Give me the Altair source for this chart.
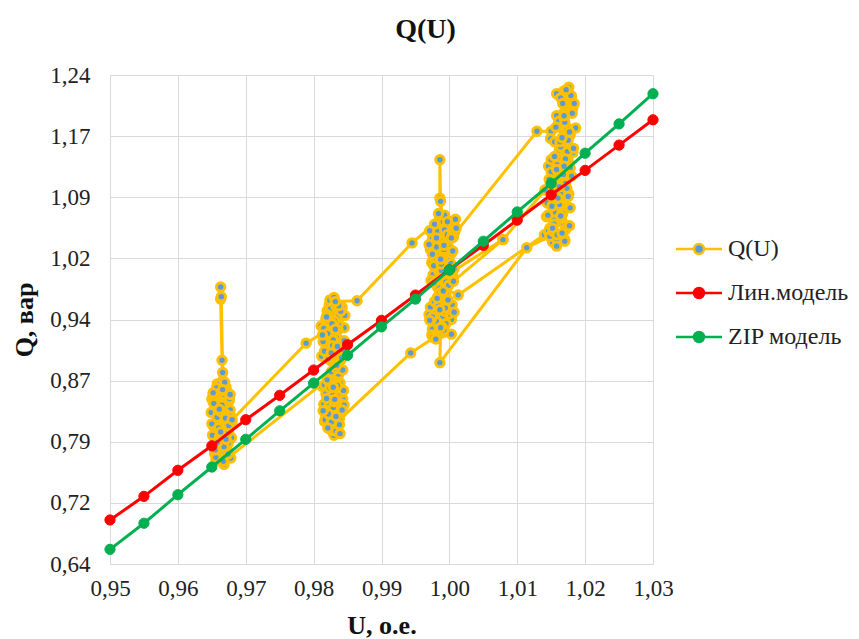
import altair as alt
import pandas as pd

# ---- measured series Q(U), in time order ----
u_meas = [
    # cluster near 1.00 (start)
    0.9992, 0.9980, 0.9994, 0.9983, 0.9996, 0.9979, 0.9990, 0.9975, 0.9985,
    0.9943,
    # cluster near 0.983 (low part)
    0.9832, 0.9830, 0.9826, 0.9838, 0.9837, 0.9822, 0.9835, 0.9818, 0.9829, 0.9841,
    0.9824, 0.9836, 0.9815, 0.9830, 0.9843, 0.9821, 0.9834, 0.9812, 0.9827, 0.9839,
    0.9828, 0.9816, 0.9834, 0.9823, 0.9840, 0.9831, 0.9819, 0.9836, 0.9825, 0.9844,
    0.9829, 0.9817, 0.9833, 0.9838, 0.9822, 0.9830, 0.9827, 0.9841, 0.9818, 0.9835,
    0.9814, 0.9826, 0.9839, 0.9821, 0.9833, 0.9845, 0.9828, 0.9816, 0.9836, 0.9824,
    0.9831, 0.9842, 0.9819, 0.9829, 0.9837,
    0.9820,
    # cluster near 0.966
    0.9666, 0.9660, 0.9672, 0.9655, 0.9668, 0.9678, 0.9662, 0.9651, 0.9670, 0.9658,
    0.9675, 0.9664, 0.9653, 0.9667, 0.9680, 0.9661, 0.9650, 0.9669, 0.9657, 0.9673,
    0.9663, 0.9652, 0.9666, 0.9665, 0.9663, 0.9663, 0.9664, 0.9666, 0.9671, 0.9659,
    0.9676, 0.9662, 0.9649, 0.9665, 0.9679, 0.9660, 0.9670, 0.9656, 0.9668, 0.9674,
    0.9664, 0.9672, 0.9658, 0.9669, 0.9677,
    0.9654, 0.9667, 0.9661, 0.9673, 0.9657, 0.9670, 0.9664, 0.9652, 0.9668, 0.9676,
    0.9659, 0.9671, 0.9663, 0.9655, 0.9669, 0.9662, 0.9674, 0.9658, 0.9666, 0.9672,
    0.9660, 0.9653, 0.9667, 0.9675, 0.9661, 0.9668, 0.9656, 0.9670,
    0.9650, 0.9663, 0.9676, 0.9657, 0.9669, 0.9652, 0.9665, 0.9678, 0.9660, 0.9671,
    0.9655, 0.9667, 0.9674, 0.9658, 0.9663, 0.9670, 0.9653, 0.9666, 0.9677, 0.9661,
    0.9680,
    0.9789,
    # cluster near 0.983 (upper part)
    0.9817, 0.9830, 0.9822, 0.9836, 0.9826, 0.9840, 0.9819, 0.9833, 0.9845, 0.9824,
    0.9811, 0.9835, 0.9828, 0.9842, 0.9820, 0.9831, 0.9838, 0.9826, 0.9814, 0.9829,
    0.9840, 0.9822, 0.9836, 0.9827,
    0.9823, 0.9837, 0.9815, 0.9829, 0.9843, 0.9826, 0.9834, 0.9812, 0.9839, 0.9821,
    0.9831, 0.9846, 0.9825, 0.9818, 0.9836, 0.9828, 0.9841, 0.9833, 0.9820, 0.9827,
    0.9816, 0.9829, 0.9843, 0.9822, 0.9835, 0.9813, 0.9827, 0.9840, 0.9824, 0.9837,
    0.9819, 0.9832, 0.9845, 0.9826, 0.9834,
    0.9830, 0.9832,
    0.9864, 0.9945,
    # cluster near 1.00 (part a)
    0.9985, 0.9996, 0.9978, 0.9990, 1.0004, 0.9983, 0.9972, 0.9993, 0.9986, 0.9986,
    0.9987, 0.9991, 1.0008, 0.9980, 0.9995, 0.9976, 0.9989, 1.0001, 0.9984, 0.9998,
    1.0006, 0.9979, 0.9993, 1.0010,
    0.9982, 0.9994, 0.9977, 0.9989, 1.0002, 0.9985, 0.9973, 0.9991, 1.0005, 0.9980,
    0.9996, 0.9987, 0.9975, 0.9993, 1.0009, 0.9984, 0.9978, 0.9997, 0.9988, 1.0003,
    0.9974, 0.9988, 1.0001, 0.9983, 0.9995, 1.0007, 0.9979, 0.9992, 0.9986, 0.9971,
    0.9997, 1.0004, 0.9981, 0.9990, 0.9977,
    1.0003,
    1.0129,
    # cluster near 1.016 (part a)
    1.0150, 1.0163, 1.0172, 1.0158, 1.0176, 1.0168, 1.0180, 1.0171, 1.0160, 1.0149,
    1.0166, 1.0178, 1.0157, 1.0146, 1.0163, 1.0175, 1.0152,
    1.0167, 1.0155, 1.0173, 1.0161, 1.0179, 1.0170, 1.0158, 1.0176, 1.0164, 1.0182,
    1.0169, 1.0157, 1.0174, 1.0162, 1.0150, 1.0168,
    1.0141,
    1.0079,
    # cluster near 1.00 (part b)
    1.0001, 0.9988, 0.9975, 0.9992, 1.0005, 0.9981, 0.9970, 0.9987, 0.9999, 0.9983,
    0.9972, 0.9990, 1.0004, 0.9986,
    0.9979, 0.9991, 1.0003, 0.9985, 0.9974, 0.9989, 1.0000, 0.9982, 0.9995, 0.9977,
    1.0013,
    # cluster near 1.016 (part b)
    1.0140, 1.0152, 1.0165, 1.0148, 1.0160, 1.0172, 1.0155, 1.0144, 1.0162, 1.0174,
    1.0158, 1.0169, 1.0150, 1.0178, 1.0161,
    1.0146, 1.0159, 1.0171, 1.0154, 1.0166, 1.0143, 1.0157, 1.0170, 1.0151, 1.0163,
    1.0176, 1.0160, 1.0148, 1.0167,
    1.0141,
    1.0079,
    # cluster near 1.00 (part c)
    1.0006, 0.9991, 0.9978, 0.9993, 0.9981, 0.9970, 0.9988, 0.9976, 0.9995, 1.0007,
    0.9984, 0.9973, 0.9990,
    0.9982, 0.9994, 0.9975, 0.9989, 1.0003, 0.9980, 0.9992, 0.9971, 0.9986, 0.9998,
    0.9987,
    0.9986, 1.0114,
    # cluster near 1.016 (part c)
    1.0148, 1.0158, 1.0170, 1.0153, 1.0166, 1.0145, 1.0162, 1.0176, 1.0156, 1.0168,
    1.0182, 1.0164, 1.0175, 1.0186, 1.0170, 1.0181, 1.0167, 1.0179, 1.0172, 1.0184,
    1.0169, 1.0177, 1.0163, 1.0174, 1.0159, 1.0171, 1.0157, 1.0167, 1.0154,
    1.0152, 1.0165, 1.0178, 1.0160, 1.0173, 1.0147, 1.0158, 1.0171, 1.0183, 1.0166,
    1.0155, 1.0169, 1.0180, 1.0162, 1.0175, 1.0151, 1.0164, 1.0177, 1.0159, 1.0170,
    1.0166,
]
q_meas = [
    0.985, 0.996, 1.008, 0.980, 0.960, 0.948, 0.936, 0.928, 0.922,
    0.899,
    0.812, 0.798, 0.804, 0.818, 0.801, 0.826, 0.834, 0.822, 0.809, 0.826,
    0.840, 0.848, 0.836, 0.855, 0.842, 0.861, 0.872, 0.858, 0.846, 0.862,
    0.806, 0.815, 0.829, 0.838, 0.850, 0.820, 0.845, 0.857, 0.868, 0.853,
    0.832, 0.817, 0.803, 0.811, 0.824, 0.839, 0.851, 0.836, 0.849, 0.859,
    0.828, 0.814, 0.800, 0.807, 0.821, 0.835, 0.847, 0.860, 0.870, 0.856,
    0.842, 0.829, 0.843, 0.857, 0.873,
    0.866,
    0.765, 0.772, 0.781, 0.790, 0.778, 0.770, 0.785, 0.798, 0.806, 0.815,
    0.800, 0.792, 0.808, 0.822, 0.812, 0.830, 0.842, 0.836, 0.851, 0.845,
    0.858, 0.849, 0.865, 0.890, 0.965, 0.980, 0.968, 0.875, 0.857, 0.838,
    0.826, 0.818, 0.826, 0.803, 0.795, 0.783, 0.774, 0.767, 0.762, 0.788,
    0.811, 0.834, 0.861, 0.848, 0.829,
    0.776, 0.769, 0.794, 0.801, 0.813, 0.824, 0.838, 0.846, 0.853, 0.841,
    0.829, 0.816, 0.804, 0.786, 0.779, 0.797, 0.808, 0.820, 0.833, 0.852,
    0.860, 0.839, 0.825, 0.810, 0.792, 0.784, 0.771, 0.800,
    0.812, 0.827, 0.843, 0.856, 0.863, 0.850, 0.835, 0.821, 0.807, 0.793,
    0.780, 0.766, 0.775, 0.789, 0.802, 0.819, 0.837, 0.854, 0.848, 0.830,
    0.817,
    0.911,
    0.925, 0.912, 0.898, 0.885, 0.876, 0.890, 0.905, 0.918, 0.930, 0.940,
    0.932, 0.948, 0.936, 0.955, 0.951, 0.962, 0.942, 0.925, 0.913, 0.897,
    0.906, 0.920, 0.934, 0.949,
    0.958, 0.944, 0.929, 0.915, 0.903, 0.889, 0.880, 0.895, 0.910, 0.923,
    0.938, 0.945, 0.953, 0.941, 0.927, 0.908, 0.893, 0.956, 0.946, 0.931,
    0.901, 0.887, 0.878, 0.892, 0.907, 0.921, 0.935, 0.950, 0.964, 0.957,
    0.943, 0.928, 0.914, 0.899, 0.884,
    0.967, 0.962,
    0.963, 1.034,
    1.062, 1.052, 1.045, 1.066, 1.058, 1.035, 1.026, 1.018, 1.089, 1.136,
    1.085, 1.060, 1.047, 1.012, 1.003, 0.995, 0.982, 0.990, 1.022, 1.030,
    1.041, 1.055, 1.068, 1.052,
    1.048, 1.036, 1.024, 1.015, 1.009, 0.998, 0.988, 0.976, 0.993, 1.005,
    1.017, 1.028, 1.039, 1.050, 1.063, 1.070, 1.057, 1.044, 1.032, 1.021,
    1.010, 1.000, 0.992, 0.979, 0.986, 1.002, 1.014, 1.026, 1.037, 1.049,
    1.060, 1.043, 1.029, 1.016, 1.006,
    1.040,
    1.171,
    1.171, 1.185, 1.198, 1.190, 1.210, 1.220, 1.214, 1.203, 1.178, 1.162,
    1.150, 1.166, 1.140, 1.128, 1.120, 1.135, 1.112,
    1.145, 1.158, 1.172, 1.183, 1.195, 1.207, 1.217, 1.225, 1.212, 1.200,
    1.188, 1.176, 1.160, 1.148, 1.136, 1.124,
    1.099,
    1.038,
    0.997, 1.008, 1.020, 1.031, 1.024, 1.040, 1.032, 1.014, 0.982, 0.968,
    0.955, 0.944, 0.958, 0.973,
    0.962, 0.951, 0.940, 0.930, 0.921, 0.934, 0.947, 0.959, 0.971, 0.985,
    0.970,
    1.044, 1.035, 1.041, 1.052, 1.063, 1.055, 1.072, 1.083, 1.090, 1.078,
    1.101, 1.112, 1.121, 1.126, 1.138,
    1.048, 1.038, 1.050, 1.062, 1.073, 1.066, 1.085, 1.096, 1.108, 1.100,
    1.117, 1.129, 1.110, 1.094,
    1.099,
    1.038,
    0.987, 0.975, 0.962, 0.950, 0.938, 0.946, 0.925, 0.918, 0.935, 0.949,
    0.957, 0.940, 0.928,
    0.966, 0.954, 0.943, 0.931, 0.922, 0.916, 0.927, 0.939, 0.952, 0.964,
    0.930,
    0.887, 1.028,
    1.042, 1.030, 1.038, 1.048, 1.060, 1.068, 1.081, 1.094, 1.106, 1.118,
    1.145, 1.152, 1.160, 1.175, 1.182, 1.193, 1.205, 1.215, 1.222, 1.205,
    1.190, 1.170, 1.158, 1.146, 1.130, 1.107, 1.088, 1.070, 1.057,
    1.052, 1.064, 1.077, 1.089, 1.101, 1.112, 1.124, 1.137, 1.150, 1.163,
    1.140, 1.128, 1.116, 1.103, 1.091, 1.079, 1.067, 1.055, 1.044, 1.036,
    1.046,
]

# ---- model curves ----
u_model = [0.950, 0.955, 0.960, 0.965, 0.970, 0.975, 0.980, 0.985, 0.990,
           0.995, 1.000, 1.005, 1.010, 1.015, 1.020, 1.025, 1.030]
q_lin = [0.694, 0.723, 0.755, 0.785, 0.817, 0.847, 0.878, 0.909, 0.939,
         0.970, 1.001, 1.031, 1.062, 1.093, 1.123, 1.154, 1.185]
q_zip = [0.658, 0.690, 0.725, 0.759, 0.793, 0.828, 0.862, 0.896, 0.931,
         0.965, 1.001, 1.036, 1.072, 1.107, 1.144, 1.180, 1.217]

series_names = ["Q(U)", "Лин.модель", "ZIP модель"]
line_colors = ["#FFC000", "#FF0000", "#00B050"]
fill_colors = ["#5B9BD5", "#FF0000", "#00B050"]

x_ticks = [0.95, 0.96, 0.97, 0.98, 0.99, 1.00, 1.01, 1.02, 1.03]
y_ticks = [0.64, 0.715, 0.79, 0.865, 0.94, 1.015, 1.09, 1.165, 1.24]

meas_df = pd.DataFrame({"u": u_meas, "q": q_meas,
                        "order": list(range(len(u_meas))),
                        "series": series_names[0]})
lin_df = pd.DataFrame({"u": u_model, "q": q_lin,
                       "order": list(range(len(u_model))),
                       "series": series_names[1]})
zip_df = pd.DataFrame({"u": u_model, "q": q_zip,
                       "order": list(range(len(u_model))),
                       "series": series_names[2]})

FONT = "Liberation Serif"
legend_path = "M-4.6,0L-1,0M1,0L4.6,0M-1,0A1,1,0,1,0,1,0A1,1,0,1,0,-1,0Z"

stroke_scale = alt.Scale(domain=series_names, range=line_colors)
fill_scale = alt.Scale(domain=series_names, range=fill_colors)

legend = alt.Legend(
    title=None, orient="none", legendX=577, legendY=162,
    symbolType=legend_path, symbolSize=100, symbolStrokeWidth=2.5,
    labelFont=FONT, labelFontSize=24, labelColor="#222222",
    labelOffset=17, rowPadding=20, padding=0,
)

x_enc = alt.X("u:Q", scale=alt.Scale(domain=[0.95, 1.03], nice=False, zero=False),
              axis=alt.Axis(title="U, о.е.", values=x_ticks,
                            labelFlush=False, labelOverlap=False, labelBound=False,
                            labelExpr="replace(format(datum.value + 0.00001, '.2f'), '.', ',')"))
y_enc = alt.Y("q:Q", scale=alt.Scale(domain=[0.64, 1.24], nice=False, zero=False),
              axis=alt.Axis(title="Q, вар", values=y_ticks,
                            labelFlush=False, labelOverlap=False, labelBound=False,
                            labelExpr="replace(format(datum.value + 0.0001, '.2f'), '.', ',')"))


def layer_pair(df, width, size, stroke_w):
    line = alt.Chart(df).mark_line(strokeWidth=width).encode(
        x=x_enc, y=y_enc, order="order:Q",
        stroke=alt.Stroke("series:N", scale=stroke_scale, legend=legend),
    )
    pts = alt.Chart(df).mark_point(shape="circle", size=size, strokeWidth=stroke_w,
                                   opacity=1, fillOpacity=1).encode(
        x=x_enc, y=y_enc,
        stroke=alt.Stroke("series:N", scale=stroke_scale, legend=legend),
        fill=alt.Fill("series:N", scale=fill_scale, legend=legend),
    )
    return [line, pts]


layers = (layer_pair(meas_df, 3, 70, 3)
          + layer_pair(lin_df, 3, 105, 1)
          + layer_pair(zip_df, 3, 105, 1))

chart = alt.layer(*layers).properties(
    width=543, height=489, background="white",
    title=alt.TitleParams("Q(U)", font=FONT, fontSize=28, fontWeight="bold",
                          color="#111111", anchor="middle", dx=44, offset=20),
    autosize=alt.AutoSizeParams(type="none"),
    padding={"left": 110, "top": 75, "right": 206, "bottom": 75},
).configure_view(stroke=None).configure_axis(
    labelFont=FONT, labelFontSize=23, labelColor="#222222",
    titleFont=FONT, titleFontSize=26, titleFontWeight="bold", titleColor="#111111",
    gridColor="#D9D9D9", gridWidth=1, domainColor="#D9D9D9", domainWidth=1,
    ticks=False,
).configure_axisX(labelPadding=13, titlePadding=12).configure_axisY(
    labelPadding=20, titlePadding=12
).configure_legend(
    labelFont=FONT, labelFontSize=24, labelColor="#222222"
)

chart.save("out.html", embed_options={"renderer": "svg", "actions": False})
